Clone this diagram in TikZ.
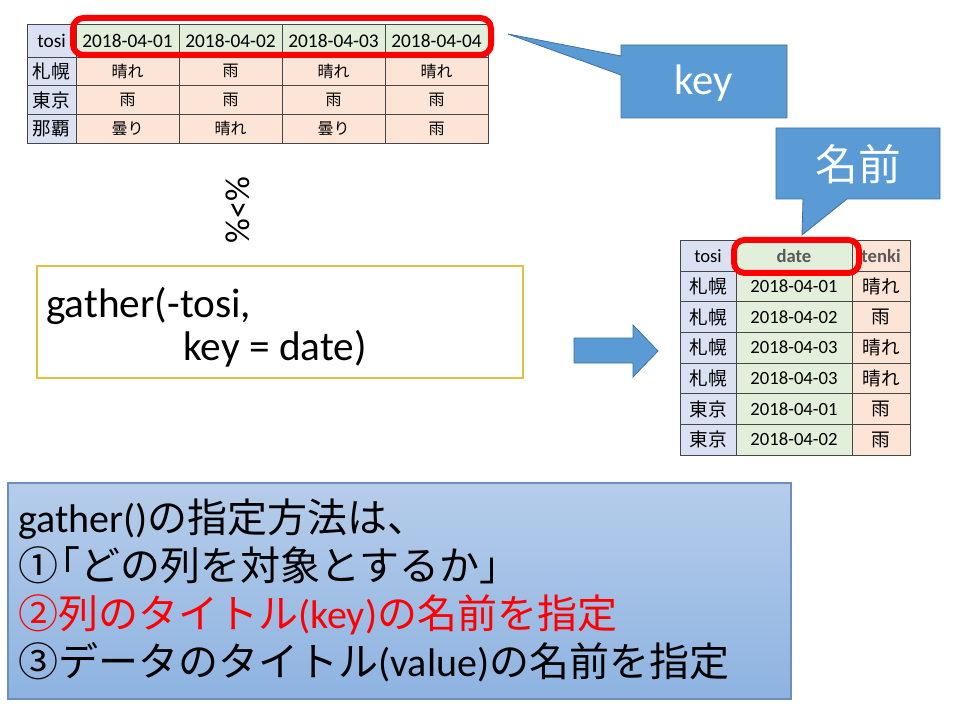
\documentclass[tikz,border=0pt]{standalone}
\usepackage{fontspec}
\setmainfont{Carlito}
\newfontfamily\jp{Noto Sans CJK JP}

\definecolor{azul}{RGB}{91,155,213}
\definecolor{azulborde}{RGB}{65,113,156}
\definecolor{celazul}{RGB}{217,225,242}
\definecolor{celverde}{RGB}{226,239,218}
\definecolor{celnaranja}{RGB}{252,228,214}
\definecolor{rejilla}{RGB}{70,70,70}
\definecolor{oro}{RGB}{226,192,64}
\definecolor{cajaarriba}{RGB}{182,205,234}
\definecolor{cajaabajo}{RGB}{142,179,225}
\definecolor{cajaborde}{RGB}{109,142,191}
\definecolor{grisoscuro}{RGB}{89,89,89}

\begin{document}
\begin{tikzpicture}[x=0.75pt, y=-0.75pt,
  celda/.style={draw=rejilla, line width=0.6pt},
  txt/.style={inner sep=0pt, font=\fontsize{14.5}{17}\selectfont},
  txtb/.style={inner sep=0pt, font=\bfseries\fontsize{14}{17}\selectfont, text=grisoscuro},
  jlab/.style={inner sep=0pt, font=\jp\fontsize{14}{17}\selectfont},
  jdat/.style={inner sep=0pt, font=\jp\fontsize{12}{14}\selectfont},
  marco/.style={draw=red, line width=4.5pt, rounded corners=8pt},
  bocadillo/.style={fill=azul, draw=azulborde, line width=0.6pt},
  linea/.style={anchor=base west, inner sep=0pt, font=\fontsize{30}{36}\selectfont}]

% Fondo
\fill[white] (0,0) rectangle (960,720);

% Tabla ancha: encabezado
\filldraw[celda, fill=celazul] (27,24) rectangle (76,57);
\node[txt] (t0) at (51.5,40.5) {tosi};
\foreach \dia [count=\i] in {01,02,03,04} {
    \pgfmathsetmacro{\xa}{76+103*(\i-1)}
    \pgfmathsetmacro{\xb}{\xa+103}
    \filldraw[celda, fill=celverde] (\xa,24) rectangle (\xb,57);
    \node[txt] (t\i) at ({(\xa+\xb)/2},40.5) {2018-04-\dia};
}

% Tabla ancha: filas
\foreach \ciudad/\va/\vb/\vc/\vd [count=\r] in {札幌/晴れ/雨/晴れ/晴れ, 東京/雨/雨/雨/雨, 那覇/曇り/晴れ/曇り/雨} {
    \pgfmathsetmacro{\ya}{57+28.7*(\r-1)}
    \pgfmathsetmacro{\yb}{\ya+28.7}
    \filldraw[celda, fill=celazul] (27,\ya) rectangle (76,\yb);
    \node[jlab] (c\r) at (51.5,{(\ya+\yb)/2}) {\ciudad};
    \foreach \v [count=\j] in {\va,\vb,\vc,\vd} {
        \pgfmathsetmacro{\xa}{76+103*(\j-1)}
        \pgfmathsetmacro{\xb}{\xa+103}
        \filldraw[celda, fill=celnaranja] (\xa,\ya) rectangle (\xb,\yb);
        \node[jdat] (v\r\j) at ({(\xa+\xb)/2},{(\ya+\yb)/2}) {\v};
    }
}

% Marco rojo (fechas)
\draw[marco] (73,18) rectangle (491,55);

% Bocadillo key
\filldraw[bocadillo] (621,45) -- (787,45) -- (787,118) -- (621,118) -- (621,75)
    -- (508,34) -- (621,56) -- cycle;
\node[anchor=base, inner sep=0pt, text=white, font=\fontsize{32}{38}\selectfont] (key) at (704,95) {key};

% Pipe
\node[rotate=90, inner sep=0pt, font=\fontsize{26}{30}\selectfont] (pipe) at (238,210) {\%<\%};

% Codigo gather
\draw[oro, line width=0.9pt] (37,266) rectangle (523,378);
\node[linea, font=\fontsize{31}{37}\selectfont] (g1) at (46,317) {gather(-tosi,};
\node[linea, font=\fontsize{31}{37}\selectfont] (g2) at (183,360) {key = date)};

% Flecha
\filldraw[bocadillo] (574,338) -- (633,338) -- (633,325) -- (658,351) -- (633,377)
    -- (633,363) -- (574,363) -- cycle;

% Bocadillo 名前
\filldraw[bocadillo] (776,128) -- (940,128) -- (940,199) -- (847,199) -- (802,235)
    -- (803,199) -- (776,199) -- cycle;
\node[inner sep=0pt, text=white, font=\jp\fontsize{32}{38}\selectfont] (nombre) at (858,164) {名前};

% Tabla larga: encabezado
\filldraw[celda, fill=celazul] (680,240) rectangle (736,271);
\filldraw[celda, fill=celverde] (736,240) rectangle (852,271);
\filldraw[celda, fill=celnaranja] (852,240) rectangle (910,271);
\node[txt, font=\fontsize{14}{17}\selectfont] (s0) at (708,256) {tosi};
\node[txtb] (s1) at (794,256) {date};
\node[txtb] (s2) at (881,256) {tenki};

% Tabla larga: filas
\foreach \ciudad/\dia/\tiempo [count=\r] in {札幌/01/晴れ, 札幌/02/雨, 札幌/03/晴れ, 札幌/03/晴れ, 東京/01/雨, 東京/02/雨} {
    \pgfmathsetmacro{\ya}{271+30.67*(\r-1)}
    \pgfmathsetmacro{\yb}{\ya+30.67}
    \pgfmathsetmacro{\ym}{(\ya+\yb)/2}
    \filldraw[celda, fill=celazul] (680,\ya) rectangle (736,\yb);
    \filldraw[celda, fill=celverde] (736,\ya) rectangle (852,\yb);
    \filldraw[celda, fill=celnaranja] (852,\ya) rectangle (910,\yb);
    \node[jlab] (u\r) at (708,\ym) {\ciudad};
    \node[txt, font=\fontsize{14}{17}\selectfont] (w\r) at (794,\ym) {2018-04-\dia};
    \node[jlab] (z\r) at (881,\ym) {\tiempo};
}

% Marco rojo (date)
\draw[marco] (734,240) rectangle (859,273);

% Caja de explicacion
\shade[top color=cajaarriba, bottom color=cajaabajo, draw=cajaborde, line width=0.8pt]
    (8,483) rectangle (791,699);
\node[linea] (l1) at (18,532) {gather()\jp の指定方法は、};
\node[linea] (l2) at (18,580) {\jp ①\kern-0.45em「どの列を対象とするか」};
\node[linea, text=red] (l3) at (18,628) {{\jp ②列のタイトル}(key){\jp の名前を指定}};
\node[linea] (l4) at (18,676) {{\jp ③データのタイトル}(value){\jp の名前を指定}};
\end{tikzpicture}
\end{document}
